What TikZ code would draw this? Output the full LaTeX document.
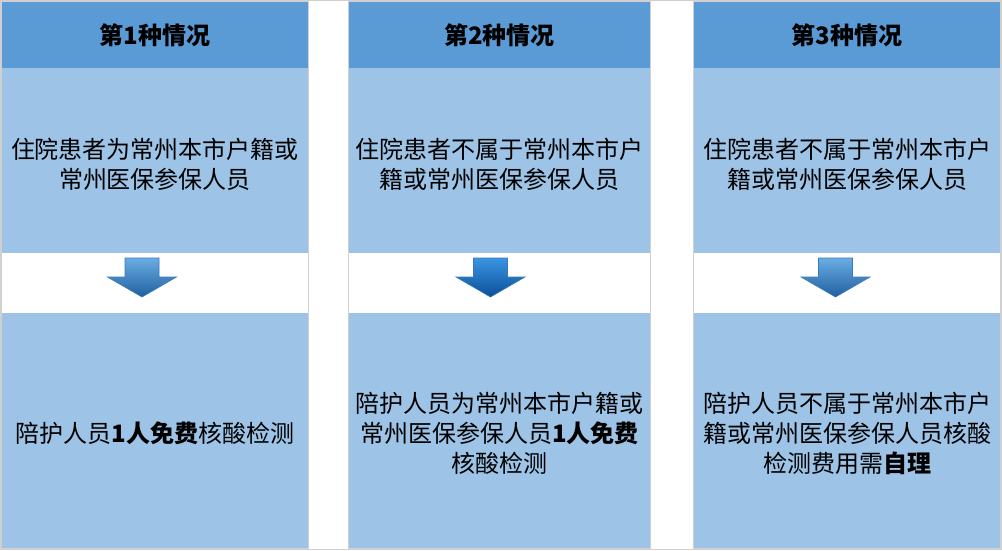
\documentclass[tikz,border=0pt]{standalone}
\usepackage{fontspec}
\setmainfont{Noto Sans CJK SC}
\definecolor{headblue}{HTML}{5B9BD5}
\definecolor{panelblue}{HTML}{9DC3E6}
\definecolor{framegray}{HTML}{D0D0D0}
\definecolor{arrowtop}{HTML}{6AADE4}
\definecolor{arrowbot}{HTML}{1F5F9F}
\definecolor{arrowtopmid}{HTML}{3B95E3}
\definecolor{arrowbotmid}{HTML}{0B4F99}
\definecolor{arrowline}{HTML}{3A79B5}
\begin{document}
\begin{tikzpicture}[x=1pt,y=-1pt]
	\tikzset{head/.style = {fill=headblue,inner sep=0,minimum height=66,font=\fontsize{24}{28}\selectfont\bfseries}}
	\tikzset{panel/.style = {fill=panelblue,inner sep=0}}
	\tikzset{label/.style = {inner sep=0,align=center,font=\fontsize{24}{30}\selectfont}}
	\tikzset{downarrow/.style = {draw=arrowline,line width=0.6pt,shading angle=0}}
	\useasboundingbox (0,0) rectangle (1002,550);
	\fill[white] (0,0) rectangle (1002,550);
	\draw[framegray,line width=1pt] (0.5,0.5) rectangle (1001.5,549.5);
	% column frames
	\foreach \l/\r in {1.5/308.5, 348.5/650.5, 693.5/1000.5}
		\draw[framegray,line width=1pt] (\l,1.5) rectangle (\r,548.5);
	% column 1
	\node[head,minimum width=306] (h1) at (155,35) {第1种情况};
	\node[panel,minimum width=306,minimum height=185] (b1) at (155,160.5) {};
	\node[panel,minimum width=306,minimum height=235] (c1) at (155,430.5) {};
	\node[label] (tb1) at (155,164) {住院患者为常州本市户籍或\\常州医保参保人员};
	\node[label] (tc1) at (155,433) {陪护人员\textbf{1人免费}核酸检测};
	% column 2
	\node[head,minimum width=301] (h2) at (499.5,35) {第2种情况};
	\node[panel,minimum width=301,minimum height=185] (b2) at (499.5,160.5) {};
	\node[panel,minimum width=301,minimum height=235] (c2) at (499.5,430.5) {};
	\node[label] (tb2) at (499.5,164) {住院患者不属于常州本市户\\籍或常州医保参保人员};
	\node[label] (tc2) at (499.5,433) {陪护人员为常州本市户籍或\\常州医保参保人员\textbf{1人免费}\\核酸检测};
	% column 3
	\node[head,minimum width=306] (h3) at (847,35) {第3种情况};
	\node[panel,minimum width=306,minimum height=185] (b3) at (847,160.5) {};
	\node[panel,minimum width=306,minimum height=235] (c3) at (847,430.5) {};
	\node[label] (tb3) at (847,164) {住院患者不属于常州本市户\\籍或常州医保参保人员};
	\node[label] (tc3) at (847,433) {陪护人员不属于常州本市户\\籍或常州医保参保人员核酸\\检测费用需\textbf{自理}};
	% arrows
	\foreach \cx/\tc/\bc in {142/arrowtop/arrowbot, 490.5/arrowtopmid/arrowbotmid, 835.5/arrowtop/arrowbot}
		\draw[downarrow,top color=\tc,bottom color=\bc]
			(\cx-17,258) -- (\cx+17,258) -- (\cx+17,277) -- (\cx+34.5,277)
			-- (\cx,297) -- (\cx-34.5,277) -- (\cx-17,277) -- cycle;
\end{tikzpicture}
\end{document}
